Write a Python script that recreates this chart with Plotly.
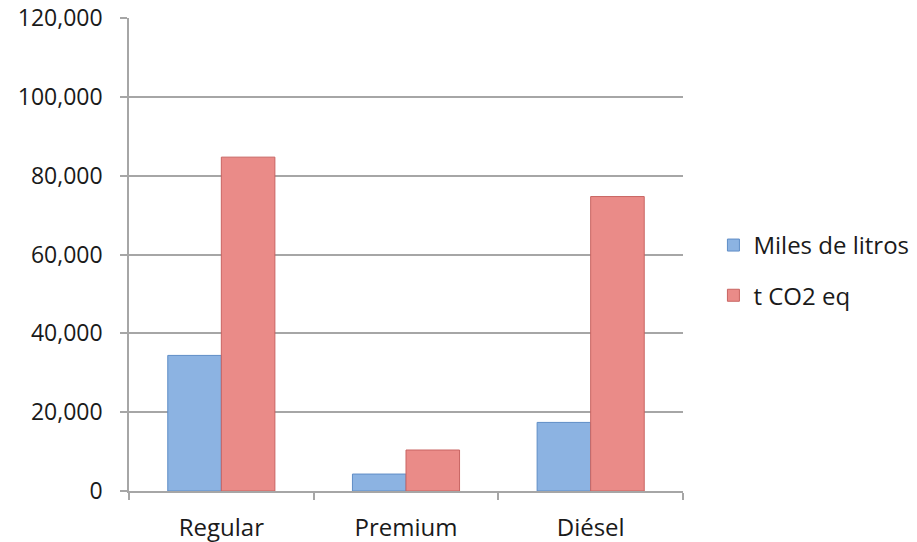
import plotly.graph_objects as go

categories = ["Regular", "Premium", "Diésel"]
miles_de_litros = [34400, 4300, 17400]
t_co2_eq = [84700, 10400, 74700]
y_ticks = [0, 20000, 40000, 60000, 80000, 100000, 120000]
y_tick_labels = ["0", "20,000", "40,000", "60,000", "80,000", "100,000", "120,000"]

FONT = "Open Sans"
GRID = "#a6a6a6"
TEXT = "#1a1a1a"

fig = go.Figure()
fig.add_trace(go.Bar(
    x=categories, y=miles_de_litros, name="Miles de litros",
    legendgroup="a",
    marker=dict(color="#8cb3e2", line=dict(color="#5f8dc6", width=1)),
))
fig.add_trace(go.Bar(
    x=categories, y=t_co2_eq, name="t CO2 eq",
    legendgroup="b",
    marker=dict(color="#ea8b88", line=dict(color="#c86462", width=1)),
))

fig.update_layout(
    width=917, height=542,
    margin=dict(l=129, r=234, t=18, b=51),
    paper_bgcolor="white", plot_bgcolor="white",
    barmode="group", bargap=0.42, bargroupgap=0,
    font=dict(family=FONT, size=23, color=TEXT),
    showlegend=True,
    legend=dict(
        xref="container", yref="container",
        x=0.778, y=0.501, xanchor="left", yanchor="middle",
        traceorder="grouped", tracegroupgap=16,
        font=dict(family=FONT, size=24, color=TEXT),
        bgcolor="rgba(0,0,0,0)",
    ),
)
fig.update_yaxes(
    range=[0, 120000], tickvals=y_ticks, ticktext=y_tick_labels,
    tickfont=dict(family=FONT, size=23, color=TEXT),
    showgrid=True, gridcolor=GRID, gridwidth=1.5,
    showline=True, linecolor=GRID, linewidth=1.5,
    ticks="outside", ticklen=7, tickcolor=GRID, tickwidth=1.5,
    ticklabelstandoff=13, zeroline=False, automargin=False,
)
fig.update_xaxes(
    tickfont=dict(family=FONT, size=24, color=TEXT),
    showline=True, linecolor=GRID, linewidth=1.5,
    ticks="outside", tickson="boundaries", ticklen=7, tickcolor=GRID, tickwidth=1.5,
    ticklabelstandoff=14, showgrid=False, automargin=False,
)

fig.write_html("out.html")
